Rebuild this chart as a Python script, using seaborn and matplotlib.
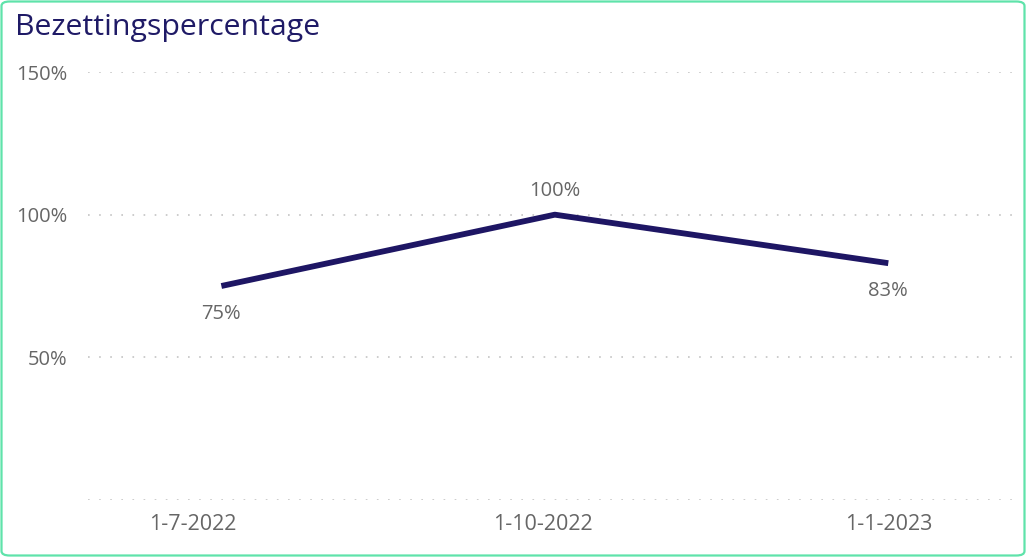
import pandas as pd
import seaborn as sns
import matplotlib
matplotlib.use('Agg')
import matplotlib.pyplot as plt
from matplotlib.patches import FancyBboxPatch

# data
dates = ['1-7-2022', '1-10-2022', '1-1-2023']
occupancy = [75, 100, 83]
y_ticks = [0, 50, 100, 150]
y_labels = ['', '50%', '100%', '150%']

df = pd.DataFrame({'Datum': dates, 'Bezetting': occupancy})

sns.set_style('white')
plt.rcParams['font.family'] = ['Open Sans', 'DejaVu Sans']
plt.rcParams['lines.scale_dashes'] = False

line_color = '#1e1664'
text_gray = '#666666'

fig = plt.figure(figsize=(10.26, 5.57), dpi=100)
ax = fig.add_axes([88 / 1026, 1 - 500 / 557, (1015 - 88) / 1026, (500 - 72) / 557])

sns.lineplot(data=df, x='Datum', y='Bezetting', ax=ax, color=line_color,
             linewidth=4.2, sort=False, clip_on=False, solid_capstyle='butt')

# data labels
for i, v in enumerate(occupancy):
    if v == max(occupancy):
        ax.annotate(f'{v}%', (i, v), xytext=(0, 17), textcoords='offset points',
                    ha='center', va='center', fontsize=14.5, color=text_gray)
    else:
        ax.annotate(f'{v}%', (i, v), xytext=(0, -20), textcoords='offset points',
                    ha='center', va='center', fontsize=14.5, color=text_gray)

ax.set_ylim(0, 150)
ax.set_xlim(-0.4, 2.38)
ax.set_yticks(y_ticks)
ax.set_yticklabels(y_labels)
# the date labels sit slightly left of the points in the original
ax.set_xticks([-0.085, 0.965, 2.0])
ax.set_xticklabels(dates)
ax.tick_params(axis='both', length=0, labelsize=14.5, labelcolor=text_gray)
ax.tick_params(axis='x', labelsize=15.5, pad=10)
ax.tick_params(axis='y', pad=14.5)
ax.set_xlabel('')
ax.set_ylabel('')
ax.grid(axis='y', color='#c4c4c4', linestyle=(0, (1.2, 6.8)), linewidth=1.2)
ax.grid(axis='x', visible=False)
sns.despine(ax=ax, left=True, bottom=True)

fig.text(15 / 1026, 1 - 28 / 557, 'Bezettingspercentage', fontsize=21.8,
         color='#1f1a66', va='center', ha='left')

# rounded green border around the card
border = FancyBboxPatch((1.5 / 1026, 1.5 / 557), 1 - 3 / 1026, 1 - 3 / 557,
                        boxstyle='round,pad=0,rounding_size=0.008',
                        transform=fig.transFigure, fill=False,
                        edgecolor='#5fe3aa', linewidth=1.6)
fig.patches.append(border)

fig.savefig('out.png', dpi=100)
